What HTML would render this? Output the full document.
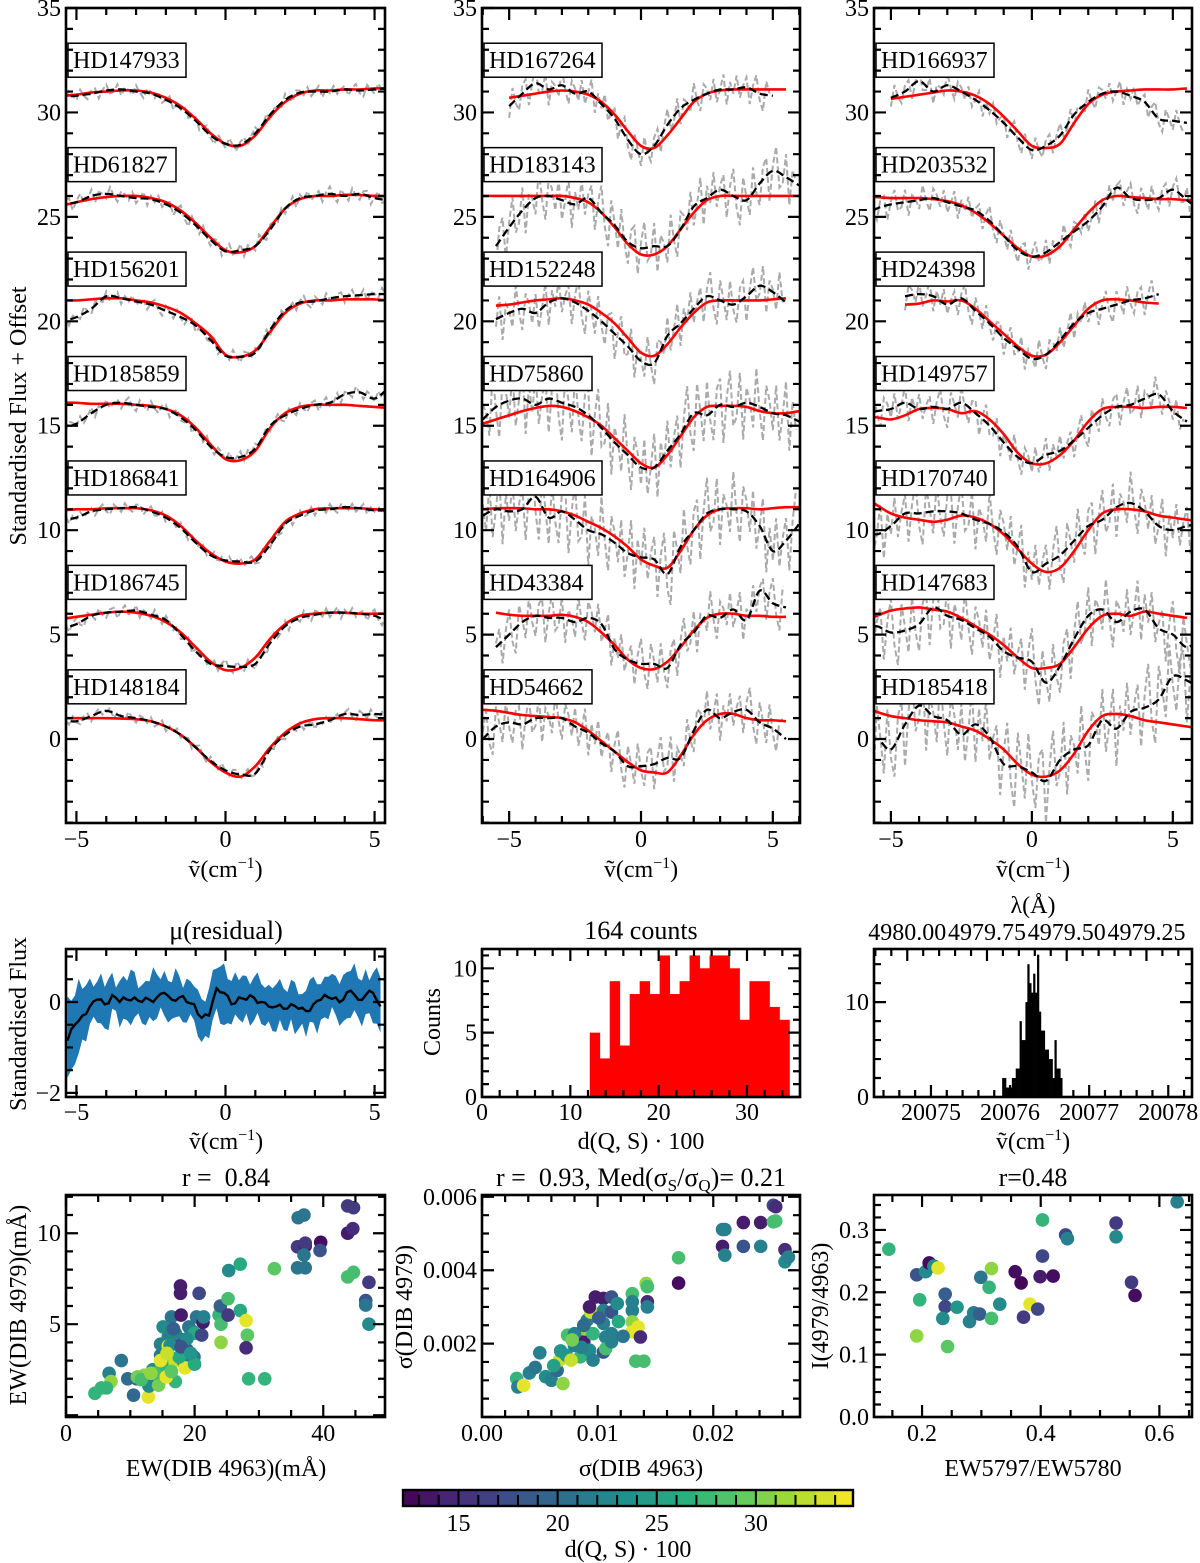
<!DOCTYPE html>
<html><head><meta charset="utf-8">
<style>
body{margin:0;background:#fff}
svg{display:block;font-family:"Liberation Serif","DejaVu Serif",serif}
text{white-space:pre}
</style></head>
<body>
<svg id="fig" width="1200" height="1563" viewBox="0 0 1200 1563"><defs id="defs"></defs></svg>
<script>
const svg=document.getElementById('fig');
const NS=svg.namespaceURI;
const defs=document.getElementById('defs');

/* ---------------- DATA ---------------- */
// spectra grid: x = -6 .. 6 step 0.5 (25 points)
const specNames1=['HD147933','HD61827','HD156201','HD185859','HD186841','HD186745','HD148184'];
const specNames2=['HD167264','HD183143','HD152248','HD75860','HD164906','HD43384','HD54662'];
const specNames3=['HD166937','HD203532','HD24398','HD149757','HD170740','HD147683','HD185418'];
const specOffsets=[30,25,20,15,10,5,0];
const red1=[
[30.8,30.8,30.85,30.95,31.0,31.05,31.05,30.95,30.7,30.3,29.7,29.0,28.5,28.4,28.9,29.8,30.5,30.9,31.05,31.05,31.1,31.1,31.15,31.15,31.15],
[25.5,25.55,25.7,25.85,25.95,26.0,26.0,25.9,25.7,25.3,24.7,24.0,23.4,23.3,23.6,24.5,25.4,25.85,26.0,26.0,26.05,26.05,26.0,26.0,26.0],
[21.0,21.0,21.0,21.05,21.1,21.1,21.0,20.9,20.7,20.4,19.9,19.3,18.4,18.3,18.6,19.5,20.4,20.85,21.0,21.0,21.05,21.05,21.05,21.0,21.0],
[16.1,16.1,16.1,16.05,16.05,16.05,16.0,15.95,15.8,15.5,14.9,14.1,13.4,13.35,13.8,14.9,15.6,15.9,16.0,16.0,16.0,15.95,15.9,15.85,15.85],
[10.95,10.95,11.0,11.0,11.05,11.05,11.05,10.95,10.7,10.2,9.5,8.9,8.5,8.4,8.6,9.5,10.4,10.8,11.0,11.05,11.05,11.05,11.0,10.95,10.9],
[5.7,5.75,5.85,5.95,6.05,6.1,6.05,5.9,5.6,5.1,4.4,3.7,3.3,3.4,3.9,4.8,5.5,5.9,6.0,6.05,6.05,6.0,6.0,6.0,6.0],
[1.0,1.0,1.0,1.0,1.0,0.98,0.95,0.85,0.6,0.2,-0.4,-1.1,-1.6,-1.8,-1.3,-0.4,0.3,0.75,0.95,1.0,1.0,0.95,0.9,0.9,0.9]];
const black1=[
[30.7,30.75,30.8,30.9,31.05,31.1,31.0,30.9,30.6,30.2,29.6,28.9,28.5,28.45,29.0,29.9,30.6,30.95,31.0,31.0,31.1,31.05,31.1,31.15,31.1],
[25.5,25.6,25.7,26.0,26.1,26.0,25.9,25.85,25.6,25.2,24.6,23.9,23.35,23.4,23.6,24.4,25.4,25.9,26.0,26.1,26.0,26.1,25.9,25.8,25.9],
[20.0,20.0,20.2,20.6,21.2,21.1,20.95,20.8,20.5,20.2,19.8,19.1,18.35,18.3,18.5,19.6,20.5,20.9,20.95,21.1,21.2,21.25,21.3,21.3,21.3],
[14.9,14.9,15.1,15.6,16.0,16.1,16.0,15.9,15.8,15.4,14.8,14.0,13.5,13.5,13.9,15.0,15.5,15.8,16.0,16.1,16.5,16.6,16.3,16.8,16.9],
[10.5,10.5,10.6,10.9,11.0,11.05,11.1,10.9,10.6,10.1,9.4,8.8,8.55,8.5,8.5,9.3,10.3,10.7,10.95,11.0,11.1,11.05,10.95,10.95,10.9],
[5.2,5.3,5.5,5.9,6.05,6.1,6.15,5.95,5.7,5.0,4.2,3.6,3.5,3.45,3.6,4.6,5.4,5.8,5.95,6.05,6.05,6.0,5.9,5.6,5.5],
[0.9,0.9,0.85,1.1,1.35,1.1,1.0,0.85,0.6,0.2,-0.4,-1.05,-1.5,-1.7,-1.65,-0.5,0.2,0.6,0.7,0.9,1.2,1.15,1.2,1.15,1.1]];
const red2=[
[null,null,30.7,30.8,30.9,31.0,31.05,31.0,30.85,30.5,29.9,29.1,28.4,28.3,28.9,29.7,30.5,30.9,31.05,31.1,31.1,31.1,31.1,31.1,null],
[26.0,26.0,26.0,26.0,26.0,26.0,26.0,25.9,25.7,25.2,24.5,23.7,23.2,23.2,23.6,24.4,25.2,25.8,26.0,26.0,26.0,26.0,26.0,26.0,26.0],
[null,20.75,20.8,20.9,21.0,21.05,21.1,21.0,20.8,20.4,19.9,19.2,18.5,18.35,18.9,19.7,20.4,20.9,21.0,21.0,21.0,21.0,21.05,21.1,null],
[15.1,15.3,15.5,15.7,15.85,15.95,15.9,15.7,15.4,15.0,14.4,13.8,13.2,13.0,13.6,14.5,15.4,15.9,15.95,15.95,15.9,15.7,15.6,15.6,15.7],
[11.0,11.05,11.05,11.05,11.0,11.0,10.9,10.7,10.4,10.1,9.7,9.2,8.6,8.3,8.2,9.0,10.0,10.7,11.0,11.05,11.05,11.0,11.05,11.1,11.1],
[null,6.05,5.95,5.9,5.9,5.9,5.95,5.85,5.6,5.1,4.5,3.8,3.4,3.35,3.7,4.4,5.2,5.8,6.0,6.0,5.9,5.9,5.85,5.85,null],
[1.4,1.35,1.25,1.15,1.1,1.05,1.0,0.8,0.4,-0.1,-0.6,-1.1,-1.5,-1.6,-1.6,-0.8,0.2,0.9,1.2,1.2,1.0,0.9,0.9,0.85,null]];
const black2=[
[null,null,30.3,30.9,31.4,31.1,31.3,30.9,31.0,30.4,29.7,28.7,28.0,28.4,29.4,30.2,30.6,30.9,31.1,31.1,31.2,30.9,30.8,null,null],
[null,23.6,24.5,25.3,25.9,26.0,25.8,25.6,25.9,25.2,24.6,23.8,23.5,23.6,23.6,24.4,25.5,25.9,26.3,26.0,25.8,26.6,27.2,26.9,26.5],
[null,20.1,20.4,20.6,20.4,20.9,21.1,20.9,20.5,20.0,19.4,18.8,18.1,18.0,19.3,19.9,20.6,21.2,21.0,20.8,21.2,21.7,21.4,20.9,null],
[15.3,15.9,16.2,16.3,16.0,16.3,16.1,15.9,15.5,14.9,14.2,13.6,13.0,13.0,13.8,14.6,15.6,15.5,16.0,15.9,16.1,15.9,15.6,15.5,15.2],
[10.7,11.0,10.9,11.0,11.6,10.6,10.9,10.5,10.0,9.8,9.4,8.9,8.7,8.6,7.9,9.2,10.0,10.8,11.0,11.0,10.9,10.2,9.0,9.5,10.3],
[null,4.4,5.0,5.6,5.9,5.8,5.8,5.6,5.8,5.5,4.3,3.8,3.6,3.6,3.4,4.5,5.1,5.9,5.8,6.2,5.7,7.1,6.5,6.3,null],
[0.0,0.6,0.8,0.7,1.0,1.0,1.0,0.6,0.3,-0.2,-0.6,-1.3,-1.3,-1.2,-0.9,-0.9,0.4,1.4,1.0,1.3,1.4,0.8,0.5,0.0,null]];
const red3=[
[null,null,30.65,30.75,30.85,30.95,31.05,31.0,30.8,30.4,29.8,29.1,28.4,28.3,28.5,29.5,30.4,30.85,31.0,31.05,31.1,31.1,31.1,31.15,null],
[26.0,25.95,25.9,25.9,25.9,25.85,25.75,25.55,25.2,24.7,24.1,23.5,23.1,23.15,23.6,24.4,25.2,25.8,26.0,25.95,25.9,25.85,25.85,25.8,25.8],
[null,null,null,20.8,20.85,21.0,20.95,21.0,20.6,20.0,19.4,18.8,18.35,18.4,19.0,19.8,20.6,21.0,21.05,21.0,20.9,20.85,null,null,null],
[15.4,15.4,15.3,15.5,15.8,15.85,15.8,15.6,15.7,15.3,14.6,13.7,13.2,13.2,13.6,14.3,15.2,15.8,15.9,15.9,15.85,15.9,15.9,15.85,null],
[11.7,11.2,10.8,10.6,10.5,10.4,10.5,10.7,10.6,10.3,9.8,9.1,8.4,8.0,8.2,9.0,10.0,10.8,11.0,11.0,10.9,10.7,10.6,10.5,10.4],
[5.6,5.9,6.15,6.25,6.3,6.2,6.1,5.8,5.4,5.0,4.5,3.9,3.4,3.4,3.6,4.4,5.3,5.9,6.0,5.9,6.1,6.0,5.9,5.8,null],
[1.6,1.3,1.1,1.0,0.9,0.85,0.8,0.6,0.4,0.0,-0.5,-1.2,-1.7,-1.8,-1.5,-0.7,0.4,1.1,1.2,1.1,0.9,0.8,0.7,0.6,0.5]];
const black3=[
[null,null,30.7,31.0,31.5,31.0,31.3,31.0,30.6,30.1,29.5,28.8,28.2,28.4,28.9,29.9,30.5,30.9,31.0,30.8,30.5,29.7,29.6,29.5,null],
[25.0,25.4,25.6,25.7,25.8,25.9,25.7,25.5,25.3,24.8,24.1,23.4,23.1,23.3,23.8,24.3,24.8,25.5,26.4,25.9,25.8,25.9,26.3,25.8,25.3],
[null,null,null,21.2,21.3,21.2,20.8,21.1,20.5,19.9,19.2,18.7,18.2,18.4,19.1,19.9,20.4,20.6,20.8,21.0,21.1,21.3,null,null,null],
[15.5,15.7,15.8,16.1,15.8,15.9,15.8,16.1,15.6,15.0,14.2,13.5,13.2,13.6,13.8,14.3,14.9,15.5,15.9,16.0,16.3,16.5,15.7,15.2,null],
[10.1,9.8,10.2,10.8,10.8,10.9,10.9,10.8,10.5,10.3,9.9,9.2,8.0,8.4,8.8,9.5,10.2,10.5,11.1,11.3,10.9,10.2,10.0,10.2,10.3],
[5.3,5.4,5.1,5.2,5.5,6.3,5.9,5.7,5.3,4.9,4.2,3.9,3.7,2.7,3.5,4.8,5.9,6.2,5.6,6.1,6.2,5.3,5.0,4.4,4.9],
[-0.5,0.0,-0.5,0.7,1.6,1.1,0.9,0.2,0.7,0.1,-1.2,-1.3,-1.6,-2.0,-1.0,-0.5,-0.3,0.9,0.5,1.3,1.5,1.9,3.0,2.8,2.4]];
const noiseAmp1=[0.3,0.35,0.3,0.3,0.25,0.3,0.25];
const noiseAmp2=[0.8,1.3,1.2,1.8,1.8,1.2,1.2];
const noiseAmp3=[0.6,0.7,0.8,0.9,1.5,1.6,2.0];
const noisePattern=[0.6,-0.9,0.3,1.0,-0.4,-1.0,0.8,0.1,-0.7,0.9,-0.2,-0.8,0.5,0.7,-1.0,0.2,0.95,-0.5,-0.3,0.85,-0.95,0.4,0.1,-0.6,1.0,-0.1,-0.85,0.65,0.3,-0.45,0.75,-0.7,0.0,0.9,-0.9,0.45,-0.25,0.8,-0.55,0.15];

// residual panel: x = -5.3 .. 5.2 step 0.25
const residMean=[-0.85,-0.5,-0.3,-0.1,0.05,-0.05,0.15,0.0,0.05,0.1,0.0,0.05,0.1,0.2,0.05,0.1,0.0,-0.05,-0.35,-0.3,0.3,0.2,-0.05,0.1,0.05,0.1,0.0,-0.1,-0.1,-0.15,-0.05,-0.15,-0.2,-0.05,0.05,0.1,0.1,0.05,0.25,0.05,0.15,0.2,-0.1];
const residSd=[0.9,0.75,0.55,0.5,0.45,0.5,0.4,0.45,0.5,0.45,0.4,0.5,0.45,0.4,0.5,0.45,0.4,0.45,0.45,0.5,0.55,0.6,0.5,0.45,0.4,0.45,0.5,0.4,0.45,0.5,0.45,0.4,0.45,0.5,0.45,0.4,0.5,0.45,0.5,0.45,0.5,0.55,0.6];

// distance histogram
const distBinStart=12.2, distBinWidth=1.13;
const distCounts=[5,3,9,4,8,9,8,11,8,9,11,10,11,11,10,6,9,9,7,6];

// wavenumber histogram
const nuBinStart=20075.9, nuBinWidth=0.0245;
const nuCounts=[2,2,1,1,1,2,2,3,3,8,6,6,10,14,12,11,13,11,15,9,7,7,5,5,4,4,2,6,3,3,2];
const lambdaTicks=['4980.00','4979.75','4979.50','4979.25'];

// scatter 1: EW
const ew63=[4.5,5.5,6.7,7.0,6.3,8.6,9.6,10.5,11.0,12.2,12.8,12.9,13.5,14.0,14.4,14.7,14.7,15.1,15.3,15.9,15.9,16.2,16.2,16.4,17.0,17.0,17.3,17.6,17.8,17.8,17.9,18.2,18.5,18.8,19.1,19.7,19.9,20.0,20.0,20.3,20.7,21.1,21.3,21.4,23.8,24.0,24.1,24.1,25.2,25.2,25.3,27.1,27.1,28.0,28.2,28.0,28.4,30.9,32.4,36.0,37.2,37.2,36.0,37.2,36.1,37.0,37.0,39.6,39.5,43.8,44.6,43.8,44.7,43.8,44.7,47.1,46.6,46.6,47.1,17.0,16.2,14.9,13.8,15.6,17.6,18.8,16.7,17.9,19.4,11.1,11.7,13.2,14.7,15.7,16.4];
const ew79=[1.2,1.5,2.3,1.85,1.5,3.0,2.0,1.1,2.0,2.2,1.0,1.6,2.5,2.0,1.65,3.9,3.3,4.85,2.85,4.3,3.8,2.3,3.2,5.4,3.0,1.85,3.9,4.2,7.1,6.7,5.5,3.0,2.6,3.6,4.85,4.6,3.2,2.8,4.5,5.4,6.7,4.4,5.1,5.4,5.5,6.0,4.0,5.0,5.5,6.4,7.95,8.3,5.75,5.2,4.4,3.7,2.0,2.0,8.05,9.25,9.3,9.45,8.1,8.1,10.85,11.0,8.8,9.5,9.05,10.0,10.25,11.5,11.4,7.6,7.85,7.3,6.3,6.05,5.0,4.5,3.85,2.75,2.3,2.1,3.2,4.2,4.75,3.75,3.4,2.1,1.95,2.3,3.0,3.4,2.4];
const ewD=[27,27,22,31,27,21,20,20,20,31,34,23,23,22,30,22,21,23,33,22,34,27,31,21,33,27,16,17,14,14,14,22,34,18,21,22,21,26,26,21,17,17,14,22,27,19,31,28,16,28,23,26,26,34,29,15,27,27,29,16,14,16,21,21,21,21,21,13,18,14,15,16,16,28,28,16,18,21,23,22,23,27,28,34,26,23,19,18,24,30,28,31,34,33,29];
// scatter 2: sigma
const sig63=[0.003,0.0031,0.0036,0.0041,0.0046,0.005,0.0055,0.006,0.0065,0.007,0.0067,0.0073,0.0074,0.008,0.0083,0.0085,0.0088,0.0089,0.0091,0.0093,0.0094,0.0098,0.0105,0.0105,0.0105,0.0107,0.0105,0.0107,0.0112,0.0112,0.0112,0.0112,0.0117,0.013,0.013,0.013,0.013,0.013,0.0135,0.0137,0.0133,0.014,0.0142,0.0143,0.0143,0.0143,0.017,0.017,0.0208,0.021,0.0208,0.021,0.0226,0.0226,0.0241,0.0241,0.0252,0.0254,0.0252,0.0254,0.0262,0.0262,0.0265,0.008,0.0086,0.0077,0.0096,0.0096,0.0093,0.0062,0.0068,0.0078,0.0088,0.0101,0.0118,0.0122];
const sig79=[0.00105,0.00082,0.00086,0.0012,0.00135,0.00175,0.0011,0.001,0.00127,0.00091,0.00155,0.00168,0.00223,0.00195,0.00227,0.00164,0.00205,0.0024,0.00264,0.00182,0.00286,0.00327,0.00323,0.0029,0.00255,0.00218,0.00177,0.00186,0.00327,0.00286,0.00227,0.00205,0.00309,0.00336,0.00314,0.0029,0.00259,0.00232,0.00245,0.00218,0.00152,0.00152,0.00364,0.00355,0.00314,0.003,0.00434,0.00365,0.00511,0.00511,0.00465,0.00441,0.0053,0.00465,0.0053,0.00465,0.00577,0.00573,0.00532,0.00534,0.00456,0.00423,0.00436,0.00227,0.0019,0.00155,0.00227,0.00155,0.003,0.0014,0.0018,0.0021,0.0025,0.0027,0.0026,0.0022];
const sigD=[27,22,34,22,21,22,23,22,20,31,33,24,28,22,34,27,14,31,22,23,33,14,14,22,22,22,18,28,18,18,22,22,23,28,22,22,31,34,34,15,28,28,31,28,15,22,28,13,22,22,14,22,14,18,14,22,17,15,28,28,15,23,22,22,22,33,27,22,14,25,24,30,20,19,26,21];
// scatter 3: ratio
const ratio=[0.144,0.191,0.206,0.212,0.22,0.227,0.196,0.191,0.239,0.239,0.259,0.235,0.243,0.28,0.287,0.297,0.299,0.313,0.317,0.317,0.331,0.357,0.367,0.371,0.382,0.395,0.399,0.403,0.403,0.421,0.442,0.445,0.527,0.527,0.553,0.559,0.63];
const intens=[0.269,0.228,0.233,0.247,0.242,0.239,0.188,0.13,0.197,0.177,0.176,0.158,0.113,0.153,0.167,0.165,0.224,0.208,0.158,0.238,0.181,0.233,0.215,0.16,0.181,0.173,0.225,0.316,0.258,0.226,0.292,0.286,0.311,0.289,0.216,0.195,0.345];
const ratioD=[27,18,23,13,23,34,27,31,19,17,24,23,29,22,22,19,21,27,28,31,23,13,12.5,16,34,17,14,27,17,13,17,22,16,23,16,13,22];

const cbTicks=[15,20,25,30];

/* ---------------- HELPERS ---------------- */
function mk(tag,parent,name){
  const e=document.createElementNS(NS,tag);
  
  
  parent.appendChild(e);return e;
}
function at(e,o){for(const k in o)e.setAttribute(k,o[k]);return e;}
const VIR=[[0,[68,1,84]],[0.125,[71,45,123]],[0.25,[59,82,139]],[0.375,[44,114,142]],[0.5,[33,145,140]],[0.625,[40,174,128]],[0.75,[94,201,98]],[0.875,[173,220,48]],[1,[253,231,37]]];
function viridis(t){t=Math.max(0,Math.min(1,t));for(let i=0;i<VIR.length-1;i++){const a=VIR[i],b=VIR[i+1];if(t<=b[0]){const f=(t-a[0])/(b[0]-a[0]);const c=a[1].map((v,j)=>Math.round(v+(b[1][j]-v)*f));return `rgb(${c})`;}}return 'rgb(253,231,37)';}
const CMIN=12.2,CMAX=34.9;
const cmap=v=>viridis((v-CMIN)/(CMAX-CMIN));
const TICKF=24, TITLEF=26, AXF=24;
let clipN=0;
function panel(name,x0,x1,y0,y1,xd,yd){
  const g=mk('g',svg,name);
  const p={g,x0,x1,y0,y1,xd,yd};
  p.sx=v=>x0+(v-xd[0])/(xd[1]-xd[0])*(x1-x0);
  p.sy=v=>y1-(v-yd[0])/(yd[1]-yd[0])*(y1-y0);
  const cid='clip'+(clipN++);
  const cp=mk('clipPath',defs,name+'-clip');at(cp,{id:cid});
  const r=mk('rect',cp,name+'-clip-rect');at(r,{x:x0,y:y0,width:x1-x0,height:y1-y0});
  p.plot=mk('g',g,name+'-plot-area');at(p.plot,{'clip-path':`url(#${cid})`});
  return p;
}
function txt(parent,name,x,y,s,size,anchor,rot){
  const t=mk('text',parent,name);
  at(t,{x,y,'font-size':size||TICKF,'text-anchor':anchor||'middle',fill:'#000'});
  if(rot)at(t,{transform:`rotate(-90 ${x} ${y})`});
  t.textContent=s;return t;
}
function frame(p){const r=mk('rect',p.g,'axes-frame');at(r,{x:p.x0,y:p.y0,width:p.x1-p.x0,height:p.y1-p.y0,fill:'none',stroke:'#000','stroke-width':2.6});}
function isMaj(v,m){const q=v/m;return Math.abs(q-Math.round(q))<1e-6;}
function xticks(p,step,major,noTop){
  const g=mk('g',p.g,'x-ticks');let d='';
  const s=Math.ceil(p.xd[0]/step-1e-9);
  for(let k=s;k*step<=p.xd[1]+1e-12;k++){const v=k*step;const x=p.sx(v);const L=isMaj(v,major)?12:7;
    d+=`M${x},${p.y1}v${-L}`;if(!noTop)d+=`M${x},${p.y0}v${L}`;}
  const pa=mk('path',g,'x-tick-marks');at(pa,{d,stroke:'#000','stroke-width':2.2});
}
function yticks(p,step,major){
  const g=mk('g',p.g,'y-ticks');let d='';
  const s=Math.ceil(p.yd[0]/step-1e-9);
  for(let k=s;k*step<=p.yd[1]+1e-12;k++){const v=k*step;const y=p.sy(v);const L=isMaj(v,major)?12:7;
    d+=`M${p.x0},${y}h${L}M${p.x1},${y}h${-L}`;}
  const pa=mk('path',g,'y-tick-marks');at(pa,{d,stroke:'#000','stroke-width':2.2});
}
function xlabels(p,vals,strs,yb){const g=mk('g',p.g,'x-tick-labels');vals.forEach((v,i)=>txt(g,'x-tick-label',p.sx(v),yb,strs[i],TICKF));}
function ylabels(p,vals,strs){const g=mk('g',p.g,'y-tick-labels');vals.forEach((v,i)=>txt(g,'y-tick-label',p.x0-5,p.sy(v)+8,strs[i],TICKF,'end'));}
function smooth(pts){let d=`M${pts[0][0]},${pts[0][1]}`;const n=pts.length;
  for(let i=0;i<n-1;i++){const p0=pts[Math.max(i-1,0)],p1=pts[i],p2=pts[i+1],p3=pts[Math.min(i+2,n-1)];
    d+=`C${p1[0]+(p2[0]-p0[0])/6},${p1[1]+(p2[1]-p0[1])/6} ${p2[0]-(p3[0]-p1[0])/6},${p2[1]-(p3[1]-p1[1])/6} ${p2[0]},${p2[1]}`;}return d;}
const gridX=i=>-6+0.5*i;
function ptsOf(p,arr){const o=[];arr.forEach((v,i)=>{if(v!==null)o.push([p.sx(gridX(i)),p.sy(v)]);});return o;}
function interp(arr,x){const f=(x+6)/0.5;const i=Math.floor(f);if(i<0||i>=arr.length-1)return null;const a=arr[i],b=arr[i+1];if(a===null||b===null)return null;return a+(b-a)*(f-i);}

function spectraPanel(p,names,reds,blacks,amps){
  names.forEach((nm,si)=>{
    const g=mk('g',p.plot,'spectrum-'+nm);
    let d='';let pen=false;let k=0;
    for(let x=-6;x<=6.001;x+=0.125,k++){const b=interp(blacks[si],x);
      if(b===null){pen=false;continue;}
      const v=b+amps[si]*noisePattern[(k+si*7)%noisePattern.length];
      d+=(pen?'L':'M')+p.sx(x)+','+p.sy(v);pen=true;}
    const gr=mk('path',g,'observed-spectrum');at(gr,{d,fill:'none',stroke:'#aaaaaa','stroke-width':2,'stroke-dasharray':'6,3'});
    const rp=ptsOf(p,reds[si]);
    const r=mk('path',g,'model-fit');at(r,{d:smooth(rp),fill:'none',stroke:'#ff0000','stroke-width':2.6});
    const bp=ptsOf(p,blacks[si]);
    const b=mk('path',g,'smoothed-spectrum');at(b,{d:smooth(bp),fill:'none',stroke:'#000','stroke-width':2.3,'stroke-dasharray':'8,4'});
  });
  names.forEach((nm,si)=>{
    const yc=p.sy(specOffsets[si]+2.5);
    const w=nm.length===8?118:108;
    const lb=mk('g',p.g,'star-label');
    const r=mk('rect',lb,'star-label-box');at(r,{x:p.x0+2,y:yc-17,width:w,height:34,fill:'#fff',stroke:'#000','stroke-width':1.5});
    txt(lb,'star-label-text',p.x0+7,yc+8,nm,24,'start');
  });
}
function nuTitle(parent,x,y){
  const t=mk('text',parent,'x-axis-title');at(t,{x,y,'font-size':AXF,'text-anchor':'middle'});
  t.appendChild(document.createTextNode('ṽ(cm'));
  const s=mk('tspan',t,'superscript');at(s,{'font-size':16,dy:-9});s.textContent='−1';
  const e=mk('tspan',t,'close-paren');at(e,{dy:9});e.textContent=')';
}

/* ---------------- TOP ROW ---------------- */
const YT=[0,5,10,15,20,25,30,35], YTS=YT.map(String);
const tops=[
  [panel('spectra-panel-left',66,385,8,823,[-5.35,5.35],[-4.02,35]),specNames1,red1,black1,noiseAmp1],
  [panel('spectra-panel-middle',482,800,8,823,[-6.03,6.03],[-4.02,35]),specNames2,red2,black2,noiseAmp2],
  [panel('spectra-panel-right',874,1192,8,823,[-5.6,5.68],[-4.02,35]),specNames3,red3,black3,noiseAmp3]];
tops.forEach(([p,n,r,b,a])=>{
  spectraPanel(p,n,r,b,a);
  frame(p);xticks(p,1,5);yticks(p,1,5);
  xlabels(p,[-5,0,5],['−5','0','5'],847);
  ylabels(p,YT,YTS);
  nuTitle(p.g,(p.x0+p.x1)/2,877);
});
txt(svg,'y-axis-title-spectra',26,416,'Standardised Flux + Offset',AXF,'middle',true);

/* ---------------- MIDDLE ROW ---------------- */
const pm1=panel('residual-panel',66,385,949,1097,[-5.35,5.35],[-2.09,1.165]);
(function(){
  const up=[],lo=[],ln=[];
  residMean.forEach((m,i)=>{const x=-5.3+0.25*i;
    const j1=0.12*noisePattern[i%40], j2=0.12*noisePattern[(i+13)%40];
    up.push([pm1.sx(x),pm1.sy(m+residSd[i]+j1)]);
    lo.push([pm1.sx(x),pm1.sy(m-residSd[i]+j2)]);
    ln.push([pm1.sx(x),pm1.sy(m)]);
    const xm=x+0.125;if(i<residMean.length-1){const mm=(m+residMean[i+1])/2;
      up.push([pm1.sx(xm),pm1.sy(mm+residSd[i]+0.2*noisePattern[(i+5)%40])]);
      lo.push([pm1.sx(xm),pm1.sy(mm-residSd[i]+0.2*noisePattern[(i+21)%40])]);
      ln.push([pm1.sx(xm),pm1.sy(mm+0.08*noisePattern[(i+9)%40])]);}
  });
  let d='M'+up.map(q=>q.join(',')).join('L')+'L'+lo.reverse().map(q=>q.join(',')).join('L')+'Z';
  const band=mk('path',pm1.plot,'residual-std-band');at(band,{d,fill:'#1f77b4',stroke:'none'});
  const l=mk('path',pm1.plot,'residual-mean-line');at(l,{d:'M'+ln.map(q=>q.join(',')).join('L'),fill:'none',stroke:'#000','stroke-width':2.4});
})();
frame(pm1);xticks(pm1,1,5);yticks(pm1,0.5,2);
xlabels(pm1,[-5,0,5],['−5','0','5'],1120);
ylabels(pm1,[0,-2],['0','−2']);
nuTitle(pm1.g,226,1149);
txt(pm1.g,'panel-title',226,939,'μ(residual)',TITLEF);
txt(svg,'y-axis-title-residual',26,1024,'Standardised Flux',AXF,'middle',true);

const pm2=panel('distance-histogram',482,800,949,1097,[0,36],[0,11.5]);
distCounts.forEach((c,i)=>{const a=distBinStart+i*distBinWidth;const r=mk('rect',pm2.plot,'hist-bar');
  at(r,{x:pm2.sx(a),y:pm2.sy(c),width:pm2.sx(a+distBinWidth)-pm2.sx(a)+0.4,height:pm2.sy(0)-pm2.sy(c),fill:'#ff0000'});});
frame(pm2);xticks(pm2,2,10);yticks(pm2,1,5);
xlabels(pm2,[0,10,20,30],['0','10','20','30'],1120);
ylabels(pm2,[0,5,10],['0','5','10']);
txt(pm2.g,'x-axis-title',641,1149,'d(Q, S) · 100',AXF);
txt(pm2.g,'panel-title',641,939,'164 counts',TITLEF);
txt(svg,'y-axis-title-counts',440,1022,'Counts',AXF,'middle',true);

const pm3=panel('wavenumber-histogram',874,1192,949,1097,[20074.28,20078.3],[0,15.6]);
nuCounts.forEach((c,i)=>{const a=nuBinStart+i*nuBinWidth;const r=mk('rect',pm3.plot,'hist-bar');
  at(r,{x:pm3.sx(a),y:pm3.sy(c),width:pm3.sx(a+nuBinWidth)-pm3.sx(a)+0.3,height:pm3.sy(0)-pm3.sy(c),fill:'#000'});});
frame(pm3);xticks(pm3,0.2,1,true);yticks(pm3,2,10);
(function(){const nuOf=l=>1e8/(l*1.00028);let d='';
  for(let k=0;k<=25;k++){const l=4980.20-0.05*k;const x=pm3.sx(nuOf(l));if(x<pm3.x0||x>pm3.x1)continue;
    const maj=Math.abs((l*4)-Math.round(l*4))<1e-6;d+=`M${x},${pm3.y0}v${maj?12:7}`;}
  const pa=mk('path',pm3.g,'top-lambda-ticks');at(pa,{d,stroke:'#000','stroke-width':2.2});
  const g=mk('g',pm3.g,'top-lambda-labels');
  lambdaTicks.forEach(s=>txt(g,'lambda-tick-label',pm3.sx(nuOf(parseFloat(s))),940,s,TICKF));
})();
xlabels(pm3,[20075,20076,20077,20078],['20075','20076','20077','20078'],1120);
ylabels(pm3,[0,10],['0','10']);
nuTitle(pm3.g,1033,1149);
txt(pm3.g,'top-axis-title',1033,913,'λ(Å)',AXF);

/* ---------------- BOTTOM ROW ---------------- */
function scatter(p,xs,ys,cs,name){const g=mk('g',p.plot,name);
  xs.forEach((x,i)=>{const c=mk('circle',g,'scatter-point');at(c,{cx:p.sx(x),cy:p.sy(ys[i]),r:6.8,fill:cmap(cs[i])});});}
const pb1=panel('ew-scatter',66,385,1195,1417,[0,49.6],[-0.1,12.1]);
scatter(pb1,ew63,ew79,ewD,'ew-points');
frame(pb1);xticks(pb1,5,20);yticks(pb1,1,5);
xlabels(pb1,[0,20,40],['0','20','40'],1441);
ylabels(pb1,[5,10],['5','10']);
txt(pb1.g,'x-axis-title',226,1476,'EW(DIB 4963)(mÅ)',AXF);
txt(pb1.g,'panel-title',226,1186,'r =  0.84',TITLEF);
txt(svg,'y-axis-title-ew',26,1305,'EW(DIB 4979)(mÅ)',AXF,'middle',true);

const pb2=panel('sigma-scatter',482,800,1195,1417,[0,0.0275],[0,0.00605]);
scatter(pb2,sig63,sig79,sigD,'sigma-points');
frame(pb2);xticks(pb2,0.002,0.01);yticks(pb2,0.0005,0.002);
xlabels(pb2,[0,0.01,0.02],['0.00','0.01','0.02'],1441);
ylabels(pb2,[0.002,0.004,0.006],['0.002','0.004','0.006']);
txt(pb2.g,'x-axis-title',641,1476,'σ(DIB 4963)',AXF);
(function(){const t=mk('text',pb2.g,'panel-title');at(t,{x:641,y:1186,'font-size':TITLEF,'text-anchor':'middle'});
  t.appendChild(document.createTextNode('r =  0.93, Med(σ'));
  const a=mk('tspan',t,'subscript-s');at(a,{'font-size':17,dy:5});a.textContent='S';
  const b=mk('tspan',t,'ratio-sigma');at(b,{dy:-5});b.textContent='/σ';
  const c=mk('tspan',t,'subscript-q');at(c,{'font-size':17,dy:5});c.textContent='Q';
  const e=mk('tspan',t,'title-value');at(e,{dy:-5});e.textContent=')= 0.21';})();
txt(svg,'y-axis-title-sigma',412,1307,'σ(DIB 4979)',AXF,'middle',true);

const pb3=panel('ratio-scatter',874,1192,1195,1417,[0.119,0.655],[0,0.356]);
scatter(pb3,ratio,intens,ratioD,'ratio-points');
frame(pb3);xticks(pb3,0.05,0.2);yticks(pb3,0.02,0.1);
xlabels(pb3,[0.2,0.4,0.6],['0.2','0.4','0.6'],1441);
ylabels(pb3,[0,0.1,0.2,0.3],['0.0','0.1','0.2','0.3']);
txt(pb3.g,'x-axis-title',1033,1476,'EW5797/EW5780',AXF);
txt(pb3.g,'panel-title',1033,1186,'r=0.48',TITLEF);
txt(svg,'y-axis-title-intensity',828,1306,'I(4979/4963)',AXF,'middle',true);

/* ---------------- COLORBAR ---------------- */
(function(){
  const g=mk('g',svg,'colorbar');
  const X0=403,X1=853,Y0=1490,Y1=1506;
  const cx=v=>X0+(v-CMIN)/(CMAX-CMIN)*(X1-X0);
  const edges=[CMIN];for(let v=13;v<=34;v++)edges.push(v);edges.push(CMAX);
  for(let i=0;i<edges.length-1;i++){const r=mk('rect',g,'colorbar-segment');
    at(r,{x:cx(edges[i]),y:Y0,width:cx(edges[i+1])-cx(edges[i])+0.5,height:Y1-Y0,fill:cmap((edges[i]+edges[i+1])/2)});}
  let d='';for(let v=13;v<=34;v++){const x=cx(v);d+=cbTicks.includes(v)?`M${x},${Y0}V${Y1}`:`M${x},${Y1}v-11`;}
  const t=mk('path',g,'colorbar-ticks');at(t,{d,stroke:'#000','stroke-width':2});
  const f=mk('rect',g,'colorbar-frame');at(f,{x:X0,y:Y0,width:X1-X0,height:Y1-Y0,fill:'none',stroke:'#000','stroke-width':2.4});
  cbTicks.forEach(v=>txt(g,'colorbar-tick-label',cx(v),1531,String(v),TICKF));
  txt(g,'colorbar-title',628,1557,'d(Q, S) · 100',AXF);
})();
</script>
</body></html>
